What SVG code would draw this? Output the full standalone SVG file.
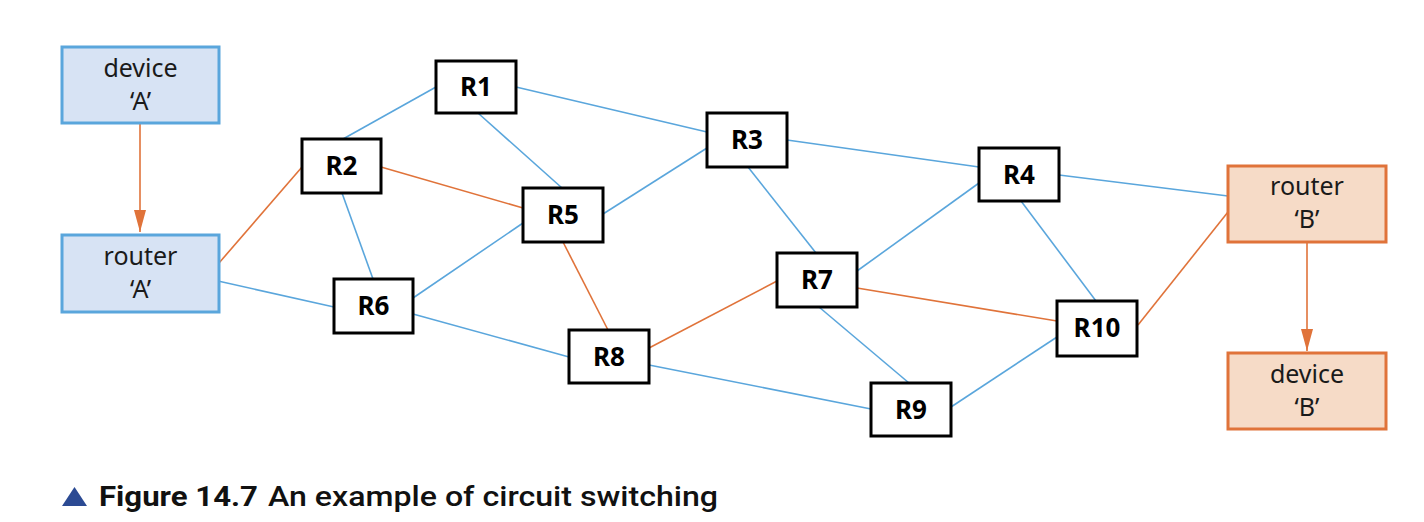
<svg xmlns="http://www.w3.org/2000/svg" width="1424" height="522" viewBox="0 0 1424 522">
<defs>
<style>
.bg{fill:#ffffff}
.blue{fill:#d7e3f4;stroke:#5aa6dc;stroke-width:3}
.orange{fill:#f6dbc7;stroke:#e0733a;stroke-width:3}
.r{fill:#ffffff;stroke:#000000;stroke-width:3}
.lbl{font-family:"Noto Sans","Open Sans","Liberation Sans",sans-serif;font-size:25px;fill:#1a1a1a;text-anchor:middle}
.rl{font-family:"Noto Sans","Open Sans","Liberation Sans",sans-serif;font-size:26px;font-weight:bold;fill:#000000;text-anchor:middle}
.eb{stroke:#5aa6dc;stroke-width:1.6;fill:none}
.eo{stroke:#e0733a;stroke-width:1.6;fill:none}
.cap{font-family:Roboto,"Liberation Sans",sans-serif;font-size:28px;fill:#111111}
</style>
<marker id="arr" viewBox="0 0 22 12" refX="22" refY="6" markerWidth="22" markerHeight="12" markerUnits="userSpaceOnUse" orient="auto">
<path d="M0,0 L22,6 L0,12 Z" fill="#e0733a"/>
</marker>
</defs>
<rect class="bg" x="0" y="0" width="1424" height="522"/>
<g id="connectors">
<line class="eb" x1="343" y1="139" x2="436" y2="87"/>
<line class="eb" x1="516" y1="87" x2="707" y2="132"/>
<line class="eb" x1="478" y1="113" x2="562" y2="188"/>
<line class="eb" x1="342" y1="193" x2="373" y2="279"/>
<line class="eb" x1="603" y1="214" x2="707" y2="148"/>
<line class="eb" x1="413" y1="298" x2="523" y2="223"/>
<line class="eb" x1="218" y1="281" x2="334" y2="307"/>
<line class="eb" x1="413" y1="314" x2="569" y2="357"/>
<line class="eb" x1="649" y1="365" x2="871" y2="409"/>
<line class="eb" x1="787" y1="140" x2="979" y2="167"/>
<line class="eb" x1="748" y1="167" x2="816" y2="253"/>
<line class="eb" x1="857" y1="271" x2="979" y2="183"/>
<line class="eb" x1="1021" y1="201" x2="1096" y2="301"/>
<line class="eb" x1="1059" y1="175" x2="1228" y2="196"/>
<line class="eb" x1="819" y1="307" x2="909" y2="383"/>
<line class="eb" x1="951" y1="407" x2="1057" y2="337"/>
<line class="eo" x1="219" y1="263" x2="302" y2="167"/>
<line class="eo" x1="381" y1="167" x2="523" y2="208"/>
<line class="eo" x1="563" y1="242" x2="608" y2="330"/>
<line class="eo" x1="649" y1="348" x2="777" y2="281"/>
<line class="eo" x1="857" y1="288" x2="1057" y2="321"/>
<line class="eo" x1="1138" y1="325" x2="1228" y2="212"/>
<line class="eo" x1="140" y1="124" x2="140" y2="232" marker-end="url(#arr)"/>
<line class="eo" x1="1307" y1="243" x2="1307" y2="351" marker-end="url(#arr)"/>
</g>
<g id="deviceA"><rect class="blue" x="62" y="47" width="157" height="76"/><text class="lbl" x="140.500" y="77">device</text><text class="lbl" x="140.500" y="110">‘A’</text></g>
<g id="routerA"><rect class="blue" x="62" y="235" width="157" height="77"/><text class="lbl" x="140.500" y="265">router</text><text class="lbl" x="140.500" y="298">‘A’</text></g>
<g id="routerB"><rect class="orange" x="1228" y="166" width="158" height="76"/><text class="lbl" x="1307" y="195">router</text><text class="lbl" x="1307" y="228">‘B’</text></g>
<g id="deviceB"><rect class="orange" x="1228" y="353" width="158" height="76"/><text class="lbl" x="1307" y="383">device</text><text class="lbl" x="1307" y="416">‘B’</text></g>
<g id="R1"><rect class="r" x="436" y="61" width="80" height="52"/><text class="rl" x="476" y="96">R1</text></g>
<g id="R2"><rect class="r" x="302" y="139" width="79" height="54"/><text class="rl" x="341.500" y="175">R2</text></g>
<g id="R3"><rect class="r" x="707" y="113" width="80" height="54"/><text class="rl" x="747" y="149">R3</text></g>
<g id="R4"><rect class="r" x="979" y="148" width="80" height="53"/><text class="rl" x="1019" y="184">R4</text></g>
<g id="R5"><rect class="r" x="523" y="188" width="80" height="54"/><text class="rl" x="563" y="224">R5</text></g>
<g id="R6"><rect class="r" x="334" y="279" width="79" height="54"/><text class="rl" x="373.500" y="315">R6</text></g>
<g id="R7"><rect class="r" x="777" y="253" width="80" height="54"/><text class="rl" x="817" y="289">R7</text></g>
<g id="R8"><rect class="r" x="569" y="330" width="80" height="53"/><text class="rl" x="609" y="366">R8</text></g>
<g id="R9"><rect class="r" x="871" y="383" width="80" height="53"/><text class="rl" x="911" y="419">R9</text></g>
<g id="R10"><rect class="r" x="1057" y="301" width="80" height="55"/><text class="rl" x="1097" y="337">R10</text></g>
<g id="caption">
<polygon points="62,506 87,506 74.500,487" fill="#2b4a93"/>
<text class="cap" x="99" y="506" font-weight="bold" textLength="159" lengthAdjust="spacingAndGlyphs">Figure 14.7</text>
<text class="cap" x="268" y="506" font-weight="500" textLength="450" lengthAdjust="spacingAndGlyphs">An example of circuit switching</text>
</g>
</svg>
